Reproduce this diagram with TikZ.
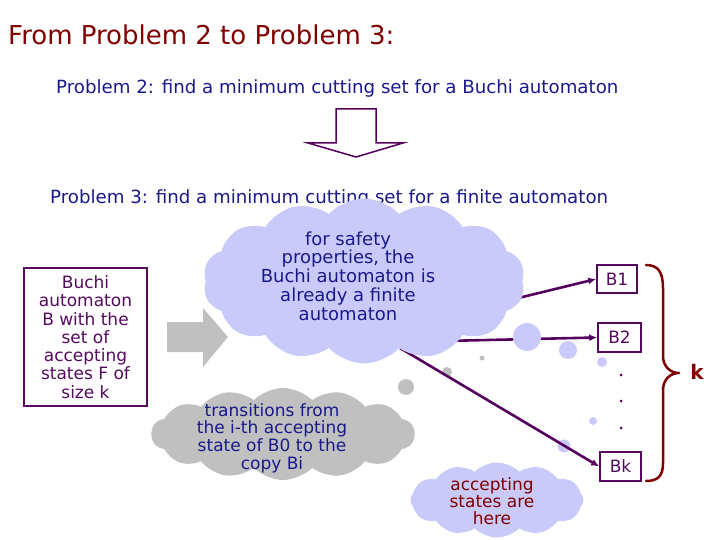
\documentclass[tikz,border=0pt]{standalone}
\usepackage{fontspec}
\setmainfont{DejaVu Sans}
\usetikzlibrary{shapes.symbols,arrows.meta}
\definecolor{navytx}{RGB}{25,25,140}
\definecolor{darkredtx}{RGB}{128,0,0}
\definecolor{linepurple}{RGB}{85,0,95}
\definecolor{boxpurple}{RGB}{85,10,95}
\definecolor{lav}{RGB}{202,202,250}
\definecolor{greyfill}{RGB}{192,192,192}
\begin{document}
\begin{tikzpicture}[x=1pt,y=-1pt,
  cloudshape/.style={cloud, cloud puffs=14, cloud puff arc=95, inner sep=0pt, draw=none},
  bub/.style={circle, inner sep=0pt, draw=none},
  conn/.style={draw=linepurple, line width=2.6pt, -{Latex[length=8pt,width=7pt]}},
  bbox/.style={draw=boxpurple, line width=1.6pt, text=boxpurple, inner sep=0pt,
     font=\fontsize{17}{18}\selectfont},
  dotmark/.style={circle, fill=linepurple, inner sep=0pt, minimum size=3pt}]
\useasboundingbox (0,0) rectangle (720,540);

% titles
\node[anchor=base west, text=darkredtx, font=\fontsize{26}{28}\selectfont, inner sep=0pt] (title) at (8,45) {From Problem 2 to Problem 3:};
\node[anchor=base west, text=navytx, font=\fontsize{18.2}{20}\selectfont, inner sep=0pt] (p2) at (56,94) {Problem 2: find a minimum cutting set for a Buchi automaton};
\node[anchor=base west, text=navytx, font=\fontsize{18.2}{20}\selectfont, inner sep=0pt] (p3) at (50,204) {Problem 3: find a minimum cutting set for a finite automaton};

% down arrow
\draw[draw=linepurple, line width=1.5pt, fill=white, line join=miter]
  (336,109) -- (376,109) -- (376,143) -- (403,143) -- (356,157) -- (308,143) -- (336,143) -- cycle;

% left box
\node[draw=boxpurple, line width=1.6pt, text=boxpurple, minimum width=123pt, minimum height=138pt,
  inner sep=0pt, align=center, font=\fontsize{17}{18.3}\selectfont] (buchi) at (85.5,337)
  {Buchi\\automaton\\B with the\\set of\\accepting\\states F of\\size k};

% grey block arrow
\fill[greyfill] (167,322) -- (203,322) -- (203,308) -- (228,337) -- (203,367) -- (203,352) -- (167,352) -- cycle;

% grey cloud and bubbles
\node[cloudshape, fill=greyfill, cloud puffs=14, cloud puff arc=90, minimum width=263pt, minimum height=92pt] (gcloud) at (283,434) {};
\node[align=center, text=navytx, font=\fontsize{17}{17.7}\selectfont] (gtext) at (272,438)
  {transitions from\\the i-th accepting\\state of B0 to the\\copy Bi};
\node[bub, fill=greyfill, minimum size=16pt] (g1) at (406,387) {};
\node[bub, fill=greyfill, minimum size=10pt] (g2) at (447,372) {};
\node[bub, fill=greyfill, minimum size=5pt] (g3) at (482,358) {};

% lower lavender cloud and bubbles
\node[cloudshape, fill=lav, cloud puffs=12, cloud puff arc=90, minimum width=173pt, minimum height=75pt] (lcloud) at (497,500) {};
\node[align=center, text=darkredtx, font=\fontsize{17}{17}\selectfont] (ltext) at (492,501)
  {accepting\\states are\\here};
\node[bub, fill=lav, minimum size=13pt] (l1) at (564,446) {};
\node[bub, fill=lav, minimum size=8pt] (l2) at (593,421) {};

% copies
\node[bbox, minimum width=40pt, minimum height=28pt] (B1) at (617,279) {B1};
\node[bbox, minimum width=43pt, minimum height=29pt] (B2) at (619.5,337.5) {B2};
\node[bbox, minimum width=41pt, minimum height=29pt] (Bk) at (620.5,466.5) {Bk};
\node[dotmark] (d1) at (621,375) {};
\node[dotmark] (d2) at (621,401) {};
\node[dotmark] (d3) at (621,428) {};

% connectors
\coordinate (o1) at (420,322);
\coordinate (o2) at (400,342);
\coordinate (o3) at (400,348);
\draw[conn] (o1) -- (B1.west);
\draw[conn] (o2) -- (B2.west);
\draw[conn] (o3) -- (Bk.west);

% top cloud and bubbles
\node[cloudshape, fill=lav, minimum width=322pt, minimum height=165pt] (tcloud) at (364,281) {};
\node[align=center, text=navytx, font=\fontsize{18}{18.8}\selectfont] (ttext) at (348,276)
  {for safety\\properties, the\\Buchi automaton is\\already a finite\\automaton};
\node[bub, fill=lav, minimum size=28pt] (t1) at (527,337) {};
\node[bub, fill=lav, minimum size=18pt] (t2) at (568,350) {};
\node[bub, fill=lav, minimum size=10pt] (t3) at (602,362) {};

% brace
\draw[darkredtx, line width=2.5pt, line cap=round, line join=round]
  (646,265) .. controls (658,265) and (663,272) .. (663,288) -- (663,356)
  .. controls (663,366) and (670,373) .. (679,373)
  .. controls (670,373) and (663,380) .. (663,390) -- (663,463)
  .. controls (663,476) and (658,481) .. (646,481);
\node[text=darkredtx, font=\bfseries\fontsize{20}{22}\selectfont] (k) at (697,372) {k};
\end{tikzpicture}
\end{document}
